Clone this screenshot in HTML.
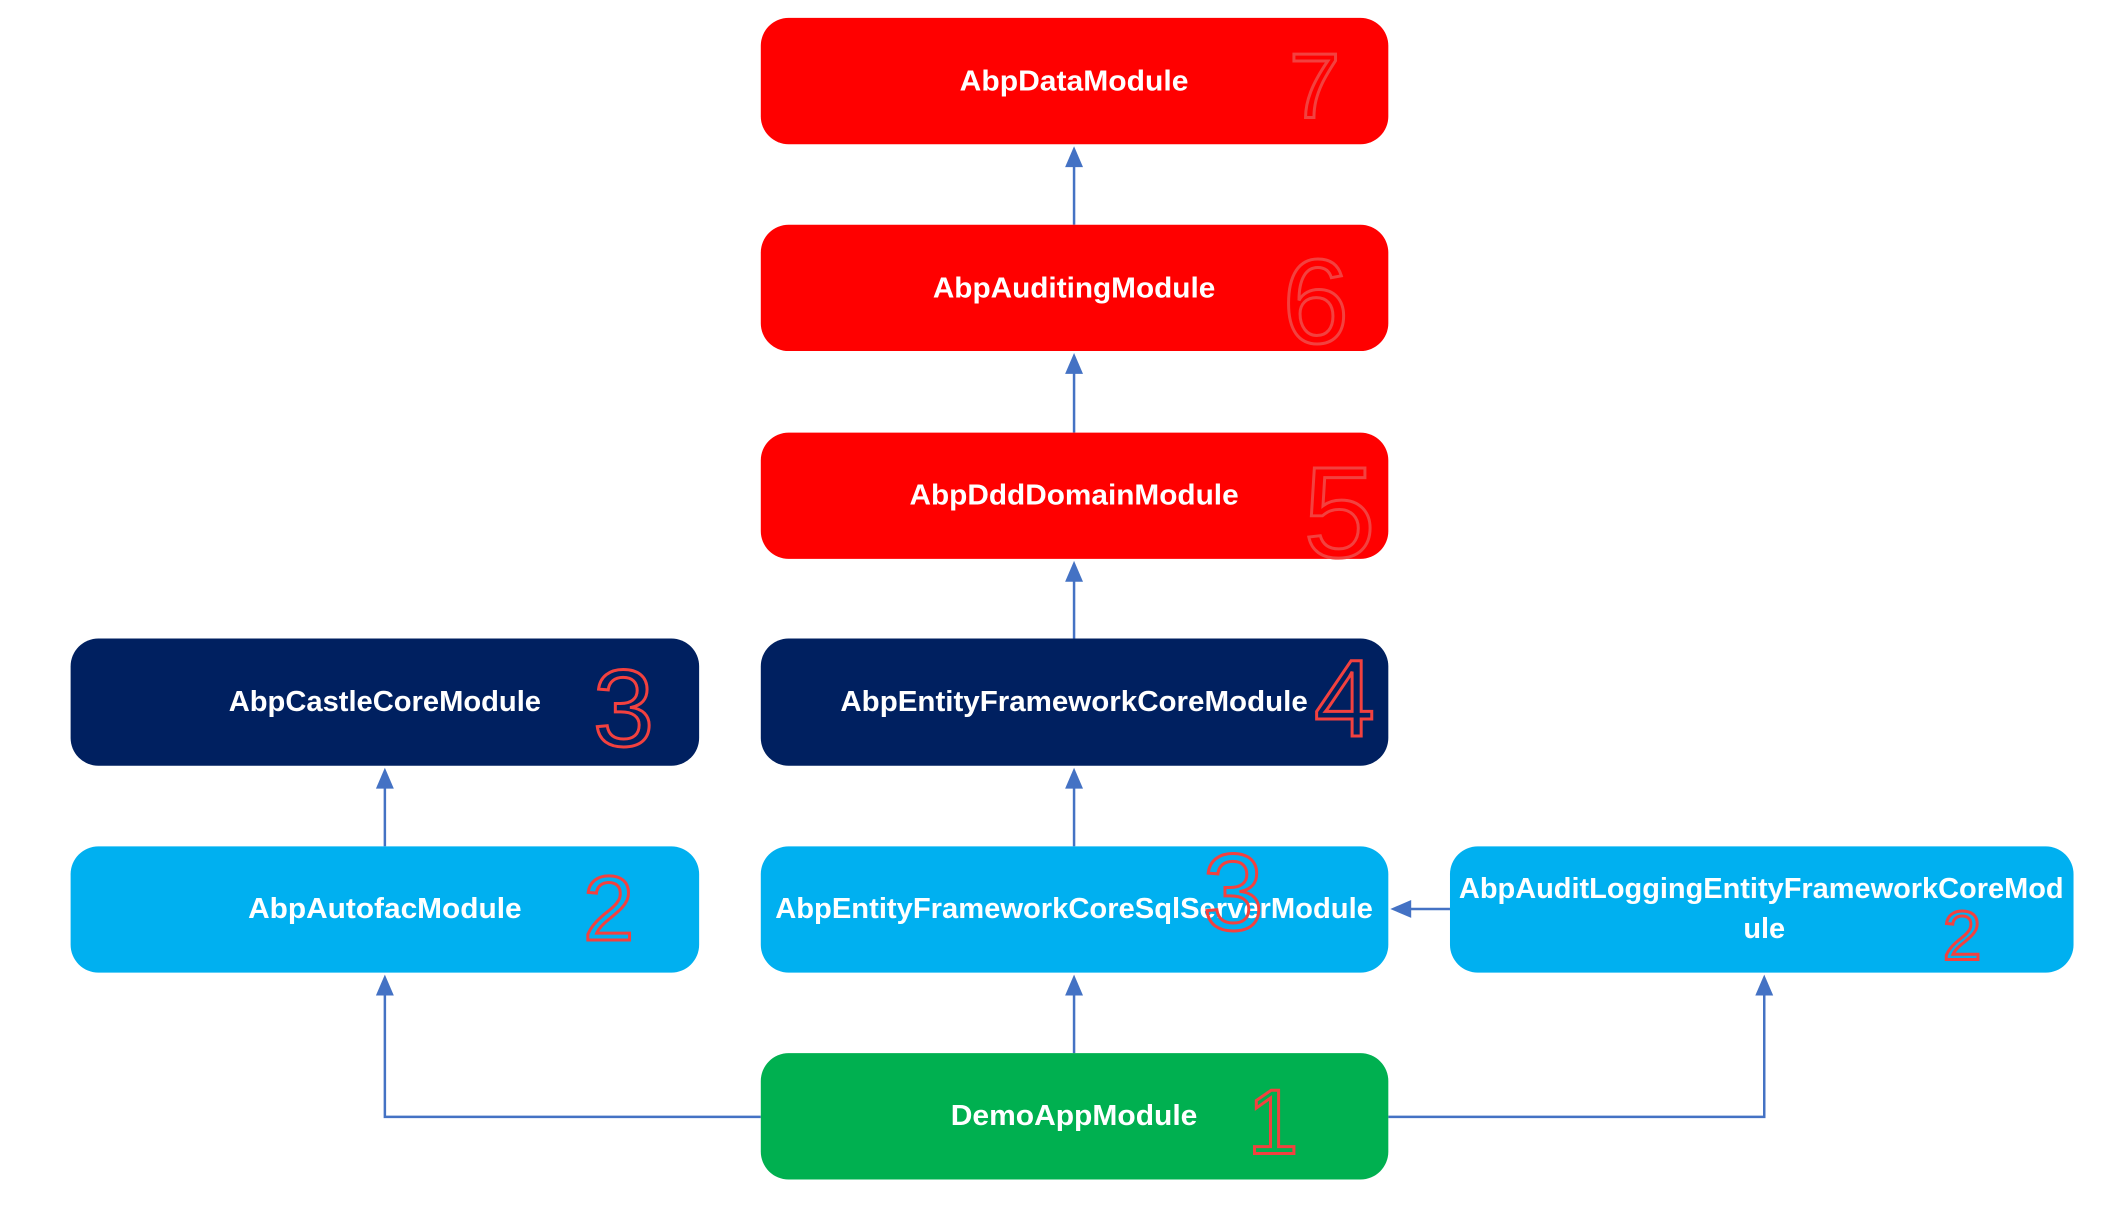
<!DOCTYPE html>
<html><head><meta charset="utf-8"><style>
html,body{margin:0;padding:0;background:#fff;}
svg{display:block;}
.t{font-family:"Liberation Sans",sans-serif;font-weight:bold;font-size:29px;fill:#fff;}
.n{font-family:"Liberation Sans",sans-serif;font-size:92px;fill:none;stroke:#f2413f;stroke-width:3;}
</style></head><body>
<svg width="2127" height="1211" viewBox="0 0 2127 1211" xmlns="http://www.w3.org/2000/svg">
<g transform="scale(0.9945)">
<g fill="#4472C4" stroke="#4472C4" stroke-width="2.5">
<line x1="1080" y1="226" x2="1080" y2="165"/><path d="M1071,168 L1080,147 L1089,168 z" stroke="none"/>
<line x1="1080" y1="435" x2="1080" y2="373"/><path d="M1071,376 L1080,355 L1089,376 z" stroke="none"/>
<line x1="1080" y1="642" x2="1080" y2="582"/><path d="M1071,585 L1080,564 L1089,585 z" stroke="none"/>
<line x1="1080" y1="851" x2="1080" y2="790"/><path d="M1071,793 L1080,772 L1089,793 z" stroke="none"/>
<line x1="1080" y1="1059" x2="1080" y2="998"/><path d="M1071,1001 L1080,980 L1089,1001 z" stroke="none"/>
<line x1="387" y1="851" x2="387" y2="790"/><path d="M378,793 L387,772 L396,793 z" stroke="none"/>
<polyline points="765,1123 387,1123 387,998" fill="none"/><path d="M378,1001 L387,980 L396,1001 z" stroke="none"/>
<polyline points="1396,1123 1774,1123 1774,998" fill="none"/><path d="M1765,1001 L1774,980 L1783,1001 z" stroke="none"/>
<line x1="1458" y1="914" x2="1416" y2="914"/><path d="M1419,905 L1398,914 L1419,923 z" stroke="none"/>
</g>
<g>
<rect x="765" y="18" width="631" height="127" rx="28" fill="#FF0000"/>
<rect x="765" y="226" width="631" height="127" rx="28" fill="#FF0000"/>
<rect x="765" y="435" width="631" height="127" rx="28" fill="#FF0000"/>
<rect x="71" y="642" width="632" height="128" rx="28" fill="#002060"/>
<rect x="765" y="642" width="631" height="128" rx="28" fill="#002060"/>
<rect x="71" y="851" width="632" height="127" rx="28" fill="#00B0F0"/>
<rect x="765" y="851" width="631" height="127" rx="28" fill="#00B0F0"/>
<rect x="1458" y="851" width="627" height="127" rx="28" fill="#00B0F0"/>
<rect x="765" y="1059" width="631" height="127" rx="28" fill="#00B050"/>
</g>
<g class="t" dominant-baseline="central" text-anchor="middle">
<text x="1080" y="82" textLength="230" lengthAdjust="spacingAndGlyphs">AbpDataModule</text>
<text x="1080" y="290" textLength="284" lengthAdjust="spacingAndGlyphs">AbpAuditingModule</text>
<text x="1080" y="498" textLength="331" lengthAdjust="spacingAndGlyphs">AbpDddDomainModule</text>
<text x="387" y="706" textLength="314" lengthAdjust="spacingAndGlyphs">AbpCastleCoreModule</text>
<text x="1080" y="706" textLength="470" lengthAdjust="spacingAndGlyphs">AbpEntityFrameworkCoreModule</text>
<text x="387" y="914" textLength="275" lengthAdjust="spacingAndGlyphs">AbpAutofacModule</text>
<text x="1080" y="914" textLength="601" lengthAdjust="spacingAndGlyphs">AbpEntityFrameworkCoreSqlServerModule</text>
<text x="1771" y="894" textLength="608" lengthAdjust="spacingAndGlyphs">AbpAuditLoggingEntityFrameworkCoreMod</text>
<text x="1774" y="934" textLength="42" lengthAdjust="spacingAndGlyphs">ule</text>
<text x="1080" y="1122" textLength="248" lengthAdjust="spacingAndGlyphs">DemoAppModule</text>
</g>
<g class="n" text-anchor="middle">
<text x="1322" y="118">7</text>
<text x="1323" y="345" font-size="120">6</text>
<text x="1347" y="560" font-size="130">5</text>
<text x="1352" y="740" font-size="110">4</text>
<text x="627" y="750" font-size="110">3</text>
<text x="612" y="945">2</text>
<text x="1240" y="935" font-size="110">3</text>
<text x="1973" y="965" font-size="70">2</text>
<text x="1280" y="1160">1</text>
</g>
</g>
</svg>
</body></html>
